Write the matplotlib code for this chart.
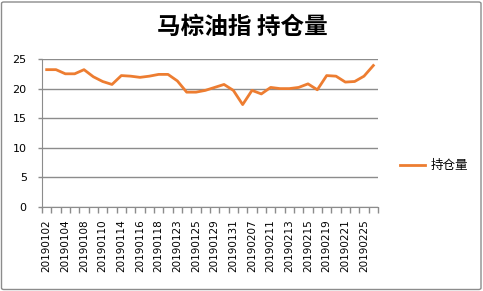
import matplotlib
matplotlib.use("Agg")
import matplotlib.pyplot as plt
from matplotlib.patches import FancyBboxPatch
from matplotlib.lines import Line2D

plt.rcParams['font.family'] = ['Noto Sans CJK SC', 'DejaVu Sans']

dates = ["20190102", "20190103", "20190104", "20190107", "20190108", "20190109",
         "20190110", "20190111", "20190114", "20190115", "20190116", "20190117",
         "20190118", "20190122", "20190123", "20190124", "20190125", "20190128",
         "20190129", "20190130", "20190131", "20190201", "20190207", "20190208",
         "20190211", "20190212", "20190213", "20190214", "20190215", "20190218",
         "20190219", "20190220", "20190221", "20190222", "20190225", "20190226"]
holdings = [23.2, 23.2, 22.5, 22.5, 23.2, 22.0, 21.2, 20.7, 22.2, 22.1, 21.9, 22.1,
            22.4, 22.4, 21.3, 19.4, 19.4, 19.7, 20.2, 20.7, 19.7, 17.3, 19.7, 19.1,
            20.2, 20.0, 20.0, 20.2, 20.8, 19.8, 22.2, 22.1, 21.1, 21.2, 22.1, 23.9]
series_name = "持仓量"
title = "马棕油指 持仓量"
yticks = [0, 5, 10, 15, 20, 25]

W, H = 483, 291
fig = plt.figure(figsize=(W / 100, H / 100), dpi=100)

border = FancyBboxPatch((1.5 / W, 1.5 / H), (W - 3.5) / W, (H - 3.5) / H,
                        boxstyle="round,pad=0,rounding_size=0.005",
                        transform=fig.transFigure, fill=False,
                        edgecolor="#8c8c8c", linewidth=1.0)
fig.patches.append(border)

ax = fig.add_axes([42 / W, (H - 207) / H, (378 - 42) / W, (207 - 59) / H])
x = list(range(len(dates)))
ax.plot(x, holdings, color="#ED7D31", linewidth=2.0, solid_joinstyle="round")

ax.set_xlim(-0.5, len(dates) - 0.5)
ax.set_ylim(0, 25)
ax.set_yticks(yticks)
ax.set_yticklabels([str(v) for v in yticks], fontsize=8, family="DejaVu Sans")
ax.yaxis.grid(True, color="#8c8c8c", linewidth=1.0)
ax.set_axisbelow(True)

ax.set_xticks(x[::2])
ax.set_xticklabels(dates[::2], rotation=90, fontsize=7.5, family="DejaVu Sans")
ax.set_xticks([i - 0.5 for i in range(len(dates) + 1)], minor=True)
ax.tick_params(axis="x", which="major", length=0, pad=9)
ax.tick_params(axis="x", which="minor", length=4, color="#8c8c8c", width=1)
ax.tick_params(axis="y", length=3, color="#8c8c8c", width=1, pad=8)

for s in ["top", "right"]:
    ax.spines[s].set_visible(False)
ax.spines["left"].set_color("#8c8c8c")
ax.spines["bottom"].set_color("#8c8c8c")

fig.text(242 / W, 1 - 27 / H, title, ha="center", va="center",
         fontsize=17, fontweight="bold")

leg_handle = Line2D([], [], color="#ED7D31", linewidth=2.0)
fig.legend([leg_handle], [series_name], loc="center left",
           bbox_to_anchor=(389 / W, 1 - 166 / H), frameon=False,
           fontsize=9, handlelength=2.0, handletextpad=0.4)

fig.savefig("out.png", dpi=100)
